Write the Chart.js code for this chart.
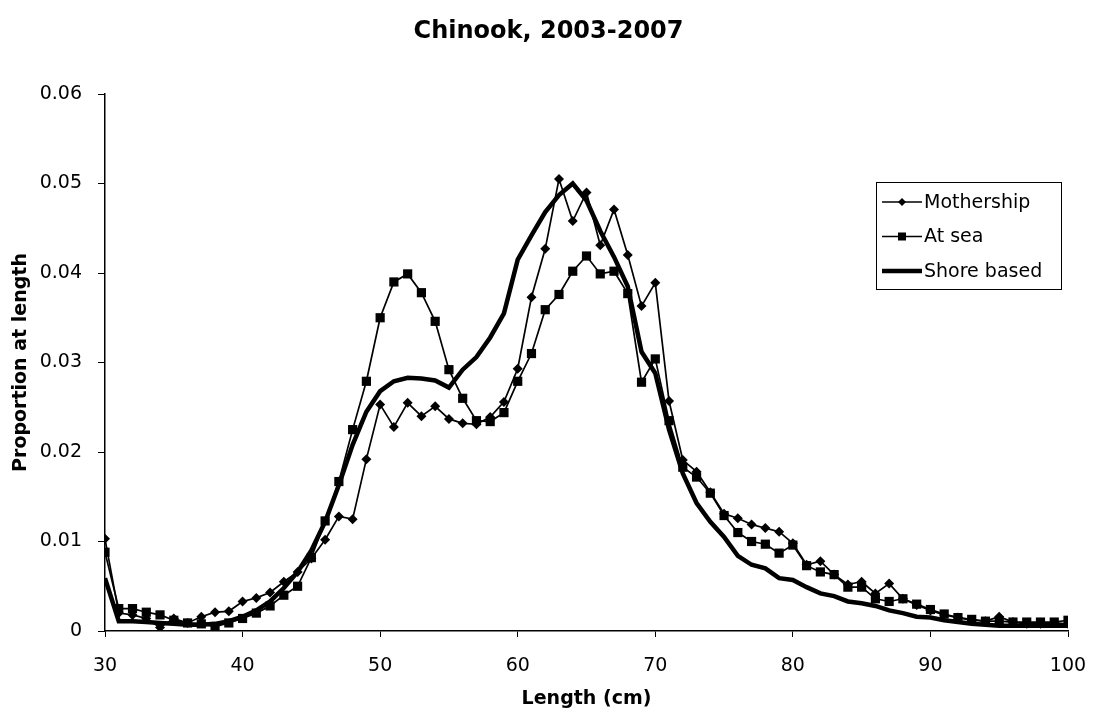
<!DOCTYPE html>
<html>
<head>
<meta charset="utf-8">
<script src="https://cdn.jsdelivr.net/npm/chart.js@4/dist/chart.umd.min.js"></script>
<style>
  html, body { margin: 0; padding: 0; background: #fff; }
</style>
</head>
<body>
<canvas id="chart" width="1097" height="716"></canvas>
<script>
// lengths in cm, one point per cm
const lengths = [];
for (let cm = 30; cm <= 100; cm++) lengths.push(cm);

const mothership = [
  0.0103, 0.0020, 0.0018, 0.0014, 0.0004, 0.0014, 0.0009, 0.0016, 0.0021, 0.0022,
  0.0033, 0.0037, 0.0043, 0.0055, 0.0066, 0.0081, 0.0102, 0.0128, 0.0125, 0.0192,
  0.0253, 0.0228, 0.0255, 0.0240, 0.0251, 0.0237, 0.0232, 0.0231, 0.0239, 0.0256,
  0.0293, 0.0373, 0.0427, 0.0505, 0.0458, 0.0490, 0.0431, 0.0471, 0.0420, 0.0363,
  0.0389, 0.0257, 0.0191, 0.0178, 0.0155, 0.0131, 0.0126, 0.0119, 0.0115, 0.0111,
  0.0098, 0.0074, 0.0078, 0.0063, 0.0052, 0.0055, 0.0042, 0.0053, 0.0036, 0.0029,
  0.0023, 0.0018, 0.0015, 0.0012, 0.0011, 0.0016, 0.0010, 0.0008, 0.0008, 0.0009,
  0.0008
];

const atSea = [
  0.0088, 0.0025, 0.0025, 0.0021, 0.0018, 0.0012, 0.0009, 0.0008, 0.0005, 0.0009,
  0.0014, 0.0020, 0.0028, 0.0040, 0.0050, 0.0082, 0.0123, 0.0167, 0.0225, 0.0279,
  0.0350, 0.0390, 0.0399, 0.0378, 0.0346, 0.0292, 0.0260, 0.0235, 0.0234, 0.0244,
  0.0279, 0.0310, 0.0359, 0.0376, 0.0402, 0.0419, 0.0399, 0.0402, 0.0377, 0.0278,
  0.0304, 0.0235, 0.0183, 0.0172, 0.0154, 0.0129, 0.0110, 0.0100, 0.0097, 0.0087,
  0.0096, 0.0073, 0.0066, 0.0063, 0.0049, 0.0049, 0.0036, 0.0033, 0.0036, 0.0030,
  0.0024, 0.0019, 0.0015, 0.0013, 0.0011, 0.0011, 0.0010, 0.0010, 0.0010, 0.0010,
  0.0012
];

const shoreBased = [
  0.0059, 0.0011, 0.0011, 0.0010, 0.0009, 0.0008, 0.0007, 0.0007, 0.0008, 0.0011,
  0.0016, 0.0023, 0.0033, 0.0048, 0.0066, 0.0090, 0.0122, 0.0163, 0.0208, 0.0245,
  0.0268, 0.0279, 0.0283, 0.0282, 0.0280, 0.0272, 0.0292, 0.0306, 0.0328, 0.0355,
  0.0415, 0.0442, 0.0468, 0.0487, 0.0500, 0.0481, 0.0447, 0.0418, 0.0385, 0.0312,
  0.0288, 0.0225, 0.0176, 0.0143, 0.0122, 0.0105, 0.0084, 0.0074, 0.0070, 0.0059,
  0.0057, 0.0049, 0.0042, 0.0039, 0.0033, 0.0031, 0.0028, 0.0023, 0.0020, 0.0016,
  0.0015, 0.0012, 0.0010, 0.0008, 0.0007, 0.0006, 0.0006, 0.0006, 0.0006, 0.0006,
  0.0006
];

const seriesNames = ['Mothership', 'At sea', 'Shore based'];
const xTicks = [30, 40, 50, 60, 70, 80, 90, 100];

const toPoints = arr => arr.map((v, i) => ({ x: lengths[i], y: v }));
const FONT = "'DejaVu Sans', Verdana, sans-serif";

// legend box drawn inside the plot, top right
const boxLegend = {
  id: 'boxLegend',
  afterDraw(chart) {
    const ctx = chart.ctx;
    const left = 876, top = 182, w = 185, h = 107;
    ctx.save();
    ctx.fillStyle = '#fff';
    ctx.fillRect(left, top, w, h);
    ctx.strokeStyle = '#000';
    ctx.lineWidth = 1;
    ctx.strokeRect(left + 0.5, top + 0.5, w, h);
    ctx.font = '19px ' + FONT;
    ctx.textBaseline = 'middle';
    ctx.fillStyle = '#000';
    chart.data.datasets.forEach((ds, i) => {
      const y = top + 20 + i * 34.5;
      ctx.beginPath();
      ctx.lineWidth = ds.borderWidth;
      ctx.moveTo(left + 6, y);
      ctx.lineTo(left + 46, y);
      ctx.stroke();
      if (ds.pointRadius > 0) {
        ctx.beginPath();
        if (ds.pointStyle === 'rect') {
          ctx.fillRect(left + 22, y - 4, 8, 8);
        } else {
          ctx.moveTo(left + 26, y - 4);
          ctx.lineTo(left + 30, y);
          ctx.lineTo(left + 26, y + 4);
          ctx.lineTo(left + 22, y);
          ctx.closePath();
          ctx.fill();
        }
      }
      ctx.fillText(ds.label, left + 48, y + 1);
    });
    ctx.restore();
  }
};

const data = {
  datasets: [
    {
      label: seriesNames[0],
      data: toPoints(mothership),
      borderColor: '#000',
      backgroundColor: '#000',
      borderWidth: 1.7,
      pointStyle: 'rectRot',
      pointRadius: 5,
      pointBorderWidth: 0,
      order: 2,
    },
    {
      label: seriesNames[1],
      data: toPoints(atSea),
      borderColor: '#000',
      backgroundColor: '#000',
      borderWidth: 1.7,
      pointStyle: 'rect',
      pointRadius: 6.5,
      pointBorderWidth: 0,
      order: 1,
    },
    {
      label: seriesNames[2],
      data: toPoints(shoreBased),
      borderColor: '#000',
      backgroundColor: '#000',
      borderWidth: 4.5,
      pointRadius: 0,
      order: 0,
    },
  ],
};

const config = {
  type: 'line',
  data: data,
  plugins: [boxLegend],
  options: {
    responsive: false,
    animation: false,
    layout: { padding: 0 },
    plugins: {
      legend: { display: false },
      tooltip: { enabled: false },
      title: {
        display: true,
        text: 'Chinook, 2003-2007',
        color: '#000',
        font: { family: FONT, size: 24, weight: 'bold' },
        padding: { top: 17, bottom: 48.2 },
      },
    },
    scales: {
      x: {
        type: 'linear',
        min: 30,
        max: 100,
        afterBuildTicks: s => { s.ticks = xTicks.map(v => ({ value: v })); },
        afterFit: s => { s.height = 85; s.paddingLeft = 0; s.paddingRight = 29; },
        grid: { drawOnChartArea: false, tickLength: 6, color: '#000' },
        border: { color: '#000', width: 1.5 },
        ticks: { color: '#000', font: { family: FONT, size: 19 }, padding: 18, maxRotation: 0 },
        title: {
          display: true,
          text: 'Length (cm)',
          color: '#000',
          font: { family: FONT, size: 19, weight: 'bold' },
          padding: { top: 0, bottom: 6 },
        },
      },
      y: {
        min: 0,
        max: 0.06,
        ticks: { stepSize: 0.01, color: '#000', font: { family: FONT, size: 19 }, padding: 16 },
        afterFit: s => { s.width = 105; },
        grid: { drawOnChartArea: false, tickLength: 7, color: '#000' },
        border: { color: '#000', width: 1.5 },
        title: {
          display: true,
          text: 'Proportion at length',
          color: '#000',
          font: { family: FONT, size: 19, weight: 'bold' },
          padding: { top: 10, bottom: 0 },
        },
      },
    },
  },
};

new Chart(document.getElementById('chart').getContext('2d'), config);
</script>
</body>
</html>
